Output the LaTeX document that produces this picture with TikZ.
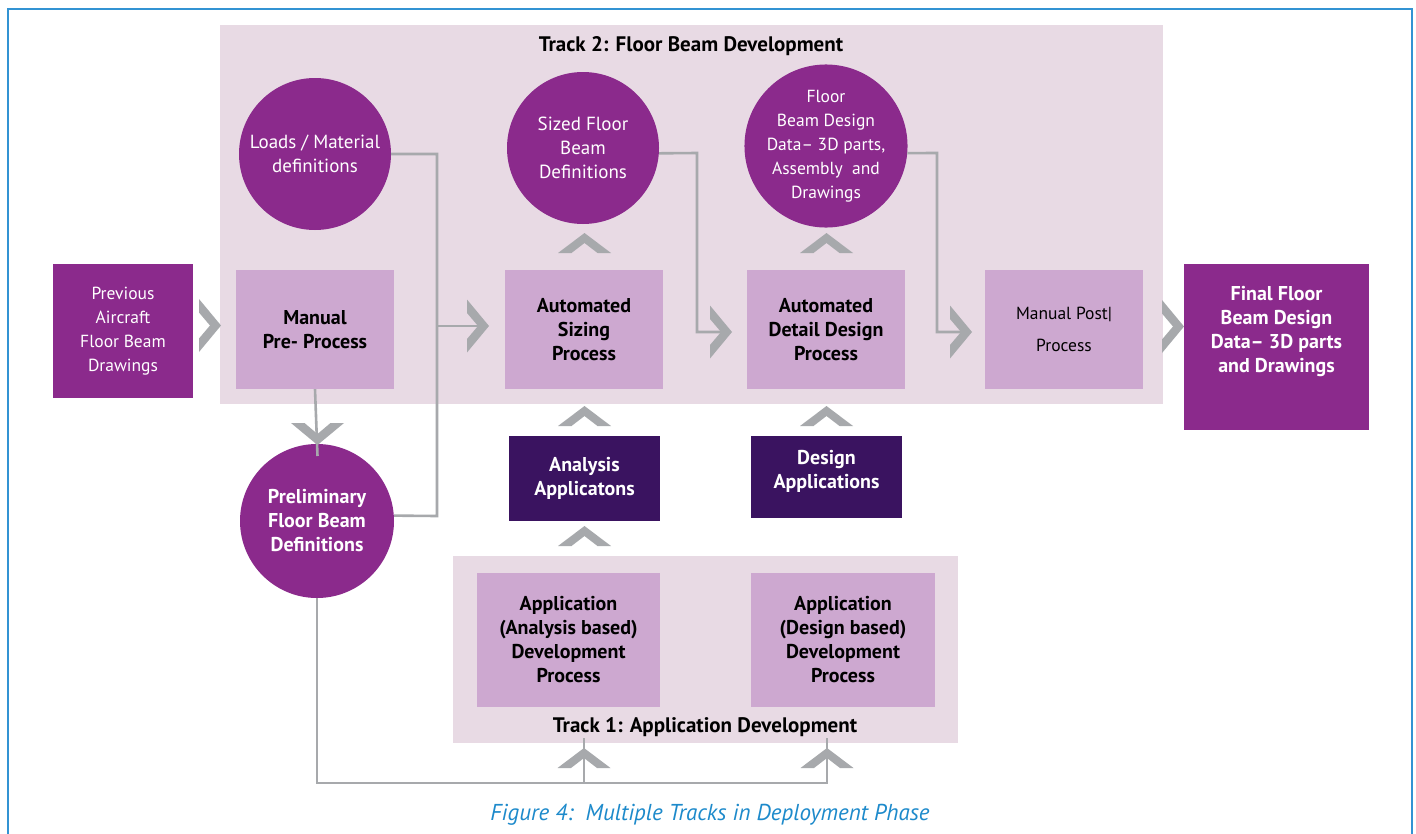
\documentclass[tikz,border=0pt]{standalone}
\usepackage{fontspec}
\setmainfont{PT Sans}
\definecolor{trackbg}{HTML}{E8DAE4}
\definecolor{procbox}{HTML}{CDA8D0}
\definecolor{pmag}{HTML}{8B2A8C}
\definecolor{darkp}{HTML}{3A1360}
\definecolor{agray}{HTML}{A7A9AC}
\definecolor{frameblue}{HTML}{3393D3}
\definecolor{capblue}{HTML}{1D8ACB}
\newcommand{\bfs}{\fontsize{20}{24}\selectfont\bfseries}
\newcommand{\rgs}{\fontsize{17.5}{24}\selectfont}
\newcommand{\rgc}{\fontsize{19}{24}\selectfont}
\begin{document}
\begin{tikzpicture}[x=1pt,y=-1pt,
  txt/.style={font=\rgs, align=center, inner sep=0pt},
  trackbox/.style={fill=trackbg, draw=none},
  proc/.style={rectangle, fill=procbox, txt, text=black, minimum width=158, minimum height=119},
  magbox/.style={rectangle, fill=pmag, txt, text=white},
  darkbox/.style={rectangle, fill=darkp, txt, text=white, minimum width=151},
  circ/.style={circle, fill=pmag, txt, text=white, minimum size=152},
  conn/.style={draw=agray, line width=2.6pt},
  pics/chevr/.style={code={\fill[agray] (0,-26.5) -- (22,0) -- (0,26.5) -- (0,13) -- (11,0) -- (0,-13) -- cycle;}},
  pics/chevu/.style={code={\fill[agray] (-26.5,20) -- (0,0) -- (26.5,20) -- (13,20) -- (0,10) -- (-13,20) -- cycle;}},
  pics/chevd/.style={code={\fill[agray] (-26.5,-22) -- (0,0) -- (26.5,-22) -- (13,-22) -- (0,-11) -- (-13,-22) -- cycle;}},
]
\clip (0,0) rectangle (1416,833);
\fill[white] (0,0) rectangle (1416,833);
% frame
\draw[frameblue, line width=2pt] (8,9) rectangle (1412,860);

% track backgrounds
\fill[trackbox] (220,25) rectangle (1163,404);
\fill[trackbox] (453,556) rectangle (958,743);
\node[txt, font=\fontsize{21}{24}\selectfont\bfseries] (t2) at (691,46) {Track 2: Floor Beam Development};
\node[txt, font=\fontsize{21}{24}\selectfont\bfseries] (t1) at (705,727) {Track 1: Application Development};

% boxes
\node[magbox, minimum width=140, minimum height=134] (prev) at (123,331) {Previous\\Aircraft\\Floor Beam\\Drawings};
\node[proc, font=\bfs] (pre) at (315,329.5) {Manual\\Pre- Process};
\node[proc, font=\bfs] (sizing) at (584,329.5) {Automated\\Sizing\\Process};
\node[proc, font=\bfs] (detail) at (826,329.5) {Automated\\Detail Design\\Process};
\node[proc] (post) at (1064,329.5) {Manual Post|\\[8pt]Process};
\node[magbox, minimum width=185, minimum height=166] (final) at (1276.5,347) {};
\node[txt, text=white, font=\bfs] (finaltxt) at (1276.5,332) {Final Floor\\Beam Design\\Data-- 3D parts\\and Drawings};

\node[darkbox, minimum height=85, font=\bfs] (analysis) at (584.5,478.5) {Analysis\\Applicatons};
\node[darkbox, minimum height=82] (design) at (826.5,477) {};
\node[txt, text=white, font=\bfs] (designtxt) at (826.5,471) {Design\\Applications};

\node[proc, minimum width=183, minimum height=134, font=\bfs] (app1) at (568.5,640) {Application\\(Analysis based)\\Development\\Process};
\node[proc, minimum width=184, minimum height=134, font=\bfs] (app2) at (843,640) {Application\\(Design based)\\Development\\Process};

% circles
\node[circ, font=\rgc] (loads) at (315,154) {Loads / Material\\definitions};
\node[circ, font=\rgc] (sized) at (583,148) {Sized Floor\\Beam\\Definitions};
\node[circ] (floor) at (826,146) {Floor\\Beam Design\\Data-- 3D parts,\\Assembly\ \ and\\Drawings};
\node[circ, minimum size=154, font=\bfs] (prelim) at (317,521) {Preliminary\\Floor Beam\\Definitions};

% junction coordinates
\coordinate (j1) at (437,154);
\coordinate (j2) at (437,516);
\coordinate (j3) at (437,326);
\coordinate (cs) at (467,326);
\coordinate (k1) at (697,153);
\coordinate (k2) at (697,332);
\coordinate (cd) at (710,332);
\coordinate (m1) at (937,153);
\coordinate (m2) at (937,332);
\coordinate (cp) at (950,332);
\coordinate (b1) at (317,783);
\coordinate (b2) at (584,783);
\coordinate (b3) at (827,783);
\coordinate (u1) at (584,748);
\coordinate (u2) at (827,748);
\coordinate (dn) at (317.5,445);

% connectors
\draw[conn] (loads.east) -- (j1) -- (j2) -- (prelim.4);
\draw[conn] (j3) -- ([xshift=11pt]cs);
\draw[conn] (sized.-4) -- (k1) -- (k2) -- ([xshift=11pt]cd);
\draw[conn] (floor.-5) -- (m1) -- (m2) -- ([xshift=11pt]cp);
\draw[conn] (pre.south) -- ([yshift=-11pt]dn);
\draw[conn] (prelim.south) -- (b1) -- (b3) -- ([yshift=10pt]u2);
\draw[conn] (b2) -- ([yshift=10pt]u1);

% chevrons
\pic at (199,325.5) {chevr};
\pic at (cs) {chevr};
\pic at (cd) {chevr};
\pic at (cp) {chevr};
\pic at (1162,326.5) {chevr};
\pic at (584.5,233) {chevu};
\pic at (826.5,233) {chevu};
\pic at (584.5,406) {chevu};
\pic at (826.5,406) {chevu};
\pic at (584.5,526) {chevu};
\pic at (u1) {chevu};
\pic at (u2) {chevu};
\pic at (dn) {chevd};

% caption
\node[txt, text=capblue, font=\fontsize{23}{24}\selectfont\itshape] (cap) at (710,815) {Figure 4:\ \ Multiple Tracks in Deployment Phase};
\end{tikzpicture}
\end{document}
